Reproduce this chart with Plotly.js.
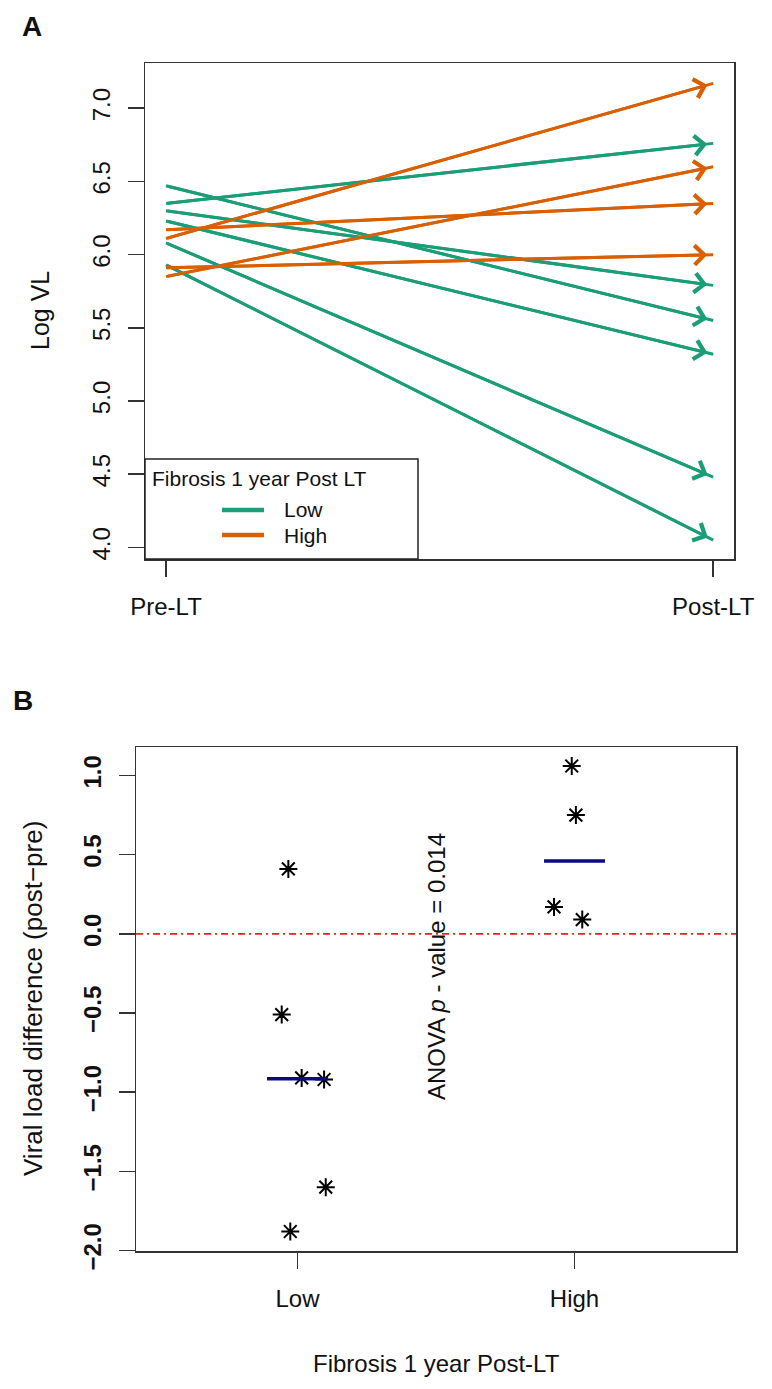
<!DOCTYPE html>
<html>
<head>
<meta charset="utf-8">
<script src="https://cdn.plot.ly/plotly-3.0.1.min.js"></script>
<style>
  body { margin: 0; background: #fff; }
  #chart { width: 772px; height: 1389px; }
</style>
</head>
<body>
<div id="chart"></div>
<script>
// ---- panel A: log viral load, pre vs post LT ----
const timeLabels = ['Pre-LT', 'Post-LT'];
const lowPre   = [6.35, 6.47, 6.30, 6.23, 6.08, 5.93];
const lowPost  = [6.76, 5.55, 5.79, 5.32, 4.48, 4.05];
const highPre  = [6.11, 6.17, 5.85, 5.91];
const highPost = [7.17, 6.35, 6.60, 6.00];
const logTicks = [4.0, 4.5, 5.0, 5.5, 6.0, 6.5, 7.0];

// ---- panel B: viral load difference (post - pre) ----
const groupLabels = ['Low', 'High'];
const lowDiff  = [0.41, -0.51, -0.91, -0.92, -1.60, -1.88];
const lowJit   = [0.967, 0.943, 1.015, 1.096, 1.102, 0.974];
const highDiff = [1.06, 0.75, 0.17, 0.09];
const highJit  = [1.990, 2.005, 1.926, 2.028];
const groupMedian = [-0.915, 0.46];
const diffTicks = [-2.0, -1.5, -1.0, -0.5, 0.0, 0.5, 1.0];
const pValue = '0.014';

const GREEN = '#1B9E77', ORANGE = '#D95F02';
const FONT = 'Liberation Sans, Arial, sans-serif';
const W = 772, H = 1389;
const px = x => x / W;          // pixel -> paper x
const py = y => 1 - y / H;      // pixel -> paper y

let traces = [];
let annotations = [];

function addArrows(pre, post, color) {
    for (let i = 0; i < pre.length; i++) {
        traces.push({
            x: [1, 2], y: [pre[i], post[i]],
            mode: 'lines', type: 'scatter',
            line: {color: color, width: 3},
            xaxis: 'x', yaxis: 'y',
            showlegend: false, hoverinfo: 'skip'
        });
        annotations.push({
            x: 2, y: post[i], ax: 1, ay: pre[i],
            xref: 'x', yref: 'y', axref: 'x', ayref: 'y',
            text: '', showarrow: true,
            arrowhead: 4, arrowsize: 1.25, arrowwidth: 3,
            arrowcolor: color, standoff: 6
        });
    }
}
addArrows(lowPre, lowPost, GREEN);
addArrows(highPre, highPost, ORANGE);

const starMarker = {symbol: 'asterisk-open', size: 15, color: '#000', line: {color: '#000', width: 2}};
traces.push({
    x: lowJit, y: lowDiff, mode: 'markers', type: 'scatter', marker: starMarker,
    xaxis: 'x2', yaxis: 'y2', showlegend: false
});
traces.push({
    x: highJit, y: highDiff, mode: 'markers', type: 'scatter', marker: starMarker,
    xaxis: 'x2', yaxis: 'y2', showlegend: false
});
// median bars
traces.push({
    x: [0.89, 1.11, null, 1.89, 2.11],
    y: [groupMedian[0], groupMedian[0], null, groupMedian[1], groupMedian[1]],
    mode: 'lines', type: 'scatter',
    line: {color: '#0B0B80', width: 3.5},
    xaxis: 'x2', yaxis: 'y2', showlegend: false
});

const axisBase = {
    showline: true, mirror: true, linecolor: '#333', linewidth: 1.5,
    ticks: 'outside', ticklen: 16, tickwidth: 1.5, tickcolor: '#333',
    showgrid: false, zeroline: false, fixedrange: true,
    tickfont: {family: FONT, size: 24, color: '#111'}
};

function label(text, x, y, size, extra) {
    return Object.assign({
        text: text, xref: 'paper', yref: 'paper', x: px(x), y: py(y),
        xanchor: 'center', yanchor: 'middle', showarrow: false,
        font: {family: FONT, size: size, color: '#111'}
    }, extra || {});
}

annotations.push(
    label('<b>A</b>', 32, 26, 28),
    label('<b>B</b>', 23, 700, 28),
    label('Log VL', 40, 311, 25, {textangle: -90}),
    label('Viral load difference (post\u2212pre)', 33, 999, 26, {textangle: -90}),
    label('Fibrosis 1 year Post-LT', 436, 1363, 24),
    {text: 'ANOVA <i>p</i> - value = ' + pValue, xref: 'x2', yref: 'y2', x: 1.5, y: -0.21,
     xanchor: 'center', yanchor: 'middle', textangle: -90, showarrow: false,
     font: {family: FONT, size: 24, color: '#111'}},
    // legend
    label('Fibrosis 1 year Post LT', 150, 478, 21, {xanchor: 'left'}),
    label(groupLabels[0], 282, 510, 21, {xanchor: 'left'}),
    label(groupLabels[1], 282, 535, 21, {xanchor: 'left'})
);

const shapes = [
    {type: 'line', xref: 'x2 domain', yref: 'y2', x0: 0, x1: 1, y0: 0, y1: 0,
     line: {color: '#FF1A1A', width: 1.6, dash: '7px,4px,2px,4px'}},
    {type: 'rect', xref: 'paper', yref: 'paper', x0: px(145), x1: px(418), y0: py(559), y1: py(459),
     line: {color: '#222', width: 1.5}, fillcolor: 'rgba(255,255,255,0)'},
    {type: 'line', xref: 'paper', yref: 'paper', x0: px(222), x1: px(264), y0: py(510), y1: py(510),
     line: {color: GREEN, width: 4.5}},
    {type: 'line', xref: 'paper', yref: 'paper', x0: px(222), x1: px(264), y0: py(535), y1: py(535),
     line: {color: ORANGE, width: 4.5}}
];

const layout = {
    width: W, height: H,
    margin: {l: 0, r: 0, t: 0, b: 0},
    paper_bgcolor: '#fff', plot_bgcolor: '#fff',
    showlegend: false,
    font: {family: FONT, color: '#111'},
    xaxis: Object.assign({}, axisBase, {
        domain: [px(145), px(734)], range: [0.9616, 2.038], anchor: 'y',
        tickvals: [1, 2], ticktext: timeLabels, ticklabelstandoff: 10
    }),
    yaxis: Object.assign({}, axisBase, {
        domain: [py(559), py(63)], range: [3.921, 7.309], anchor: 'x',
        tickvals: logTicks, tickformat: '.1f', tickangle: -90, ticklabelstandoff: 8
    }),
    xaxis2: Object.assign({}, axisBase, {
        domain: [px(136), px(736)], range: [0.417, 2.583], anchor: 'y2',
        tickvals: [1, 2], ticktext: groupLabels, ticklabelstandoff: 10
    }),
    yaxis2: Object.assign({}, axisBase, {
        domain: [py(1251), py(747)], range: [-2.003, 1.18], anchor: 'x2',
        tickvals: diffTicks, tickformat: '.1f', tickangle: -90, ticklabelstandoff: 8,
        tickfont: {family: FONT, size: 24, color: '#111', weight: 'bold'}
    }),
    shapes: shapes,
    annotations: annotations
};

Plotly.newPlot('chart', traces, layout, {displayModeBar: false, staticPlot: true});
</script>
</body>
</html>
